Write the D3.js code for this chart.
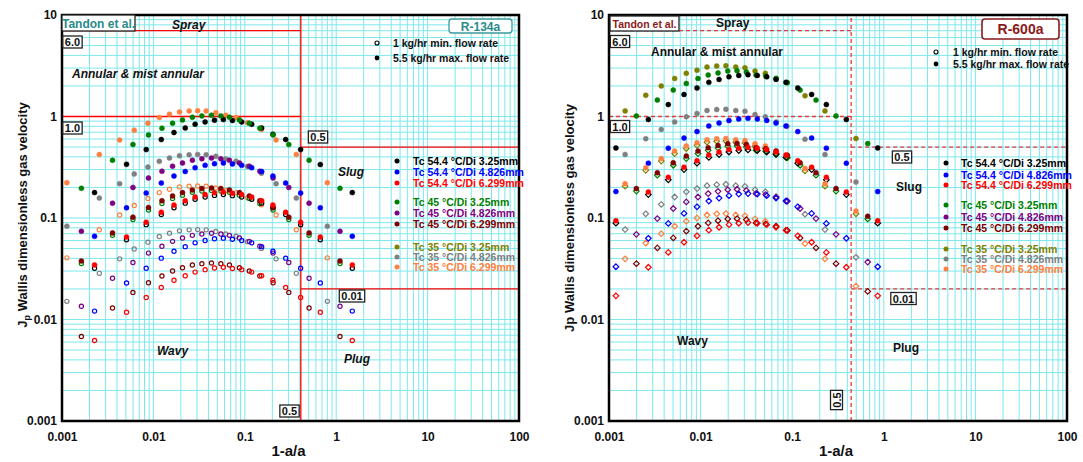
<!DOCTYPE html>
<html lang="en">
<head>
<meta charset="UTF-8">
<title>Tandon flow map - R-134a / R-600a</title>
<script src="https://cdn.jsdelivr.net/npm/d3@7/dist/d3.min.js"></script>
<style>
body { margin: 0; background: #fff; }
svg text { font-family: "Liberation Sans", Arial, sans-serif; font-weight: bold; }
</style>
</head>
<body>
<svg id="chart" width="1083" height="462"></svg>
<script>
// ---------- R-134a (left) : x = 1-a/a, one set per condensing temperature ----------
var L_x54 = [0.00227, 0.00508, 0.00834, 0.0122, 0.0168, 0.0223, 0.0286, 0.0368, 0.0466, 0.0583, 0.0732, 0.0925, 0.119, 0.153, 0.203, 0.280, 0.408, 0.670, 1.50];
var L_x45 = [0.00163, 0.00357, 0.00597, 0.00883, 0.0124, 0.0162, 0.0208, 0.0267, 0.0339, 0.0432, 0.0547, 0.0679, 0.0873, 0.112, 0.146, 0.204, 0.303, 0.505, 1.10];
var L_x35 = [0.00113, 0.00256, 0.00427, 0.00617, 0.00871, 0.0116, 0.0150, 0.0193, 0.0246, 0.0305, 0.0378, 0.0482, 0.0619, 0.0803, 0.107, 0.152, 0.220, 0.366, 0.80];

// Jp, 5.5 kg/hr (max) and 1 kg/hr (min)
var L_54_325_max  = [0.178, 0.338, 0.472, 0.593, 0.695, 0.771, 0.839, 0.885, 0.919, 0.934, 0.912, 0.885, 0.839, 0.771, 0.669, 0.593, 0.472, 0.336, 0.178];
var L_54_325_min  = [0.032, 0.061, 0.086, 0.108, 0.126, 0.140, 0.153, 0.161, 0.167, 0.170, 0.166, 0.161, 0.153, 0.140, 0.126, 0.108, 0.086, 0.061, 0.032];
var L_54_4826_max = [0.066, 0.126, 0.176, 0.221, 0.259, 0.287, 0.313, 0.330, 0.343, 0.348, 0.340, 0.330, 0.313, 0.287, 0.259, 0.221, 0.176, 0.126, 0.066];
var L_54_4826_min = [0.0121, 0.0229, 0.032, 0.0402, 0.0471, 0.0522, 0.0569, 0.060, 0.0624, 0.0633, 0.0618, 0.060, 0.0569, 0.0522, 0.0471, 0.0402, 0.032, 0.0229, 0.0121];
var L_54_6299_max = [0.0345, 0.065, 0.091, 0.114, 0.134, 0.148, 0.161, 0.170, 0.177, 0.180, 0.175, 0.170, 0.161, 0.148, 0.134, 0.114, 0.091, 0.065, 0.0345];
var L_54_6299_min = [0.0062, 0.0118, 0.0165, 0.0207, 0.0244, 0.027, 0.0293, 0.031, 0.0322, 0.0327, 0.0318, 0.031, 0.0293, 0.027, 0.0244, 0.0207, 0.0165, 0.0118, 0.0062];

var L_45_325_max  = [0.196, 0.371, 0.530, 0.658, 0.767, 0.859, 0.925, 0.984, 1.014, 1.03, 1.014, 0.984, 0.925, 0.859, 0.767, 0.658, 0.530, 0.371, 0.196];
var L_45_325_min  = [0.0356, 0.0675, 0.0964, 0.120, 0.139, 0.156, 0.168, 0.179, 0.184, 0.187, 0.184, 0.179, 0.168, 0.156, 0.139, 0.120, 0.0964, 0.0675, 0.0356];
var L_45_4826_max = [0.074, 0.140, 0.200, 0.248, 0.289, 0.324, 0.349, 0.371, 0.383, 0.389, 0.383, 0.371, 0.349, 0.324, 0.289, 0.248, 0.200, 0.140, 0.074];
var L_45_4826_min = [0.0135, 0.0255, 0.0364, 0.0451, 0.0526, 0.0589, 0.0635, 0.0675, 0.0696, 0.0707, 0.0696, 0.0675, 0.0635, 0.0589, 0.0526, 0.0451, 0.0364, 0.0255, 0.0135];
var L_45_6299_max = [0.0377, 0.0713, 0.102, 0.127, 0.148, 0.165, 0.178, 0.189, 0.195, 0.198, 0.195, 0.189, 0.178, 0.165, 0.148, 0.127, 0.102, 0.0713, 0.0377];
var L_45_6299_min = [0.0068, 0.013, 0.0185, 0.023, 0.0268, 0.030, 0.0324, 0.0344, 0.0355, 0.036, 0.0355, 0.0344, 0.0324, 0.030, 0.0268, 0.023, 0.0185, 0.013, 0.0068];

var L_35_4826_max = [0.083, 0.157, 0.218, 0.272, 0.318, 0.362, 0.390, 0.411, 0.420, 0.423, 0.420, 0.405, 0.382, 0.363, 0.322, 0.276, 0.218, 0.157, 0.083];
var L_35_4826_min = [0.0151, 0.0285, 0.0396, 0.0495, 0.0578, 0.0658, 0.0709, 0.0747, 0.0764, 0.0769, 0.0764, 0.0736, 0.0695, 0.066, 0.0585, 0.0502, 0.0396, 0.0285, 0.0151];
var L_35_6299_max = [0.223, 0.422, 0.587, 0.733, 0.859, 0.977, 1.054, 1.11, 1.135, 1.14, 1.135, 1.09, 1.03, 0.98, 0.87, 0.745, 0.587, 0.422, 0.223];
var L_35_6299_min = [0.0405, 0.0767, 0.107, 0.133, 0.156, 0.178, 0.192, 0.202, 0.206, 0.207, 0.206, 0.198, 0.187, 0.178, 0.158, 0.135, 0.107, 0.0767, 0.0405];

// ---------- R-600a (right) ----------
var R_x54 = [0.00119, 0.00269, 0.00444, 0.00659, 0.00914, 0.0123, 0.0159, 0.0204, 0.0261, 0.0329, 0.0416, 0.0527, 0.0666, 0.0855, 0.115, 0.163, 0.236, 0.390, 0.858];
var R_x45 = [0.00199, 0.00337, 0.00503, 0.00698, 0.00937, 0.0121, 0.0155, 0.0198, 0.0250, 0.0316, 0.0403, 0.0514, 0.0666, 0.0885, 0.122, 0.182, 0.301, 0.667];
var R_x35 = [0.0015, 0.00252, 0.00372, 0.00521, 0.00698, 0.00914, 0.01175, 0.0150, 0.0189, 0.0242, 0.0305, 0.0393, 0.0509, 0.067, 0.0877, 0.138, 0.228, 0.497];

var R_54_325_max  = [0.49, 0.934, 1.31, 1.65, 1.91, 2.17, 2.32, 2.46, 2.54, 2.58, 2.54, 2.46, 2.32, 2.17, 1.91, 1.65, 1.31, 0.934, 0.49];
var R_54_325_min  = [0.089, 0.17, 0.238, 0.30, 0.347, 0.395, 0.422, 0.447, 0.462, 0.469, 0.462, 0.447, 0.422, 0.395, 0.347, 0.30, 0.238, 0.17, 0.089];
var R_54_4826_max = [0.182, 0.347, 0.487, 0.613, 0.71, 0.807, 0.862, 0.914, 0.944, 0.959, 0.944, 0.914, 0.862, 0.807, 0.71, 0.613, 0.487, 0.347, 0.182];
var R_54_4826_min = [0.0331, 0.0631, 0.0885, 0.111, 0.129, 0.147, 0.157, 0.166, 0.172, 0.174, 0.172, 0.166, 0.157, 0.147, 0.129, 0.111, 0.0885, 0.0631, 0.0331];
var R_54_6299_max = [0.094, 0.18, 0.252, 0.317, 0.367, 0.417, 0.446, 0.473, 0.488, 0.496, 0.488, 0.473, 0.446, 0.417, 0.367, 0.317, 0.252, 0.18, 0.094];
var R_54_6299_min = [0.0171, 0.0327, 0.0458, 0.0577, 0.0668, 0.0759, 0.0811, 0.086, 0.0888, 0.0902, 0.0888, 0.086, 0.0811, 0.0759, 0.0668, 0.0577, 0.0458, 0.0327, 0.0171];

var R_45_325_max  = [1.014, 1.45, 1.82, 2.12, 2.37, 2.56, 2.69, 2.80, 2.82, 2.75, 2.56, 2.50, 2.37, 2.16, 1.82, 1.45, 1.014, 0.541];
var R_45_325_min  = [0.184, 0.264, 0.331, 0.385, 0.431, 0.465, 0.489, 0.509, 0.513, 0.50, 0.465, 0.455, 0.431, 0.393, 0.331, 0.264, 0.184, 0.098];
var R_45_4826_min = [0.069, 0.0986, 0.124, 0.144, 0.161, 0.174, 0.183, 0.19, 0.192, 0.187, 0.174, 0.17, 0.161, 0.147, 0.124, 0.0986, 0.069, 0.0368];
var R_45_6299_max = [0.195, 0.279, 0.35, 0.408, 0.456, 0.492, 0.517, 0.538, 0.542, 0.529, 0.492, 0.481, 0.456, 0.415, 0.35, 0.279, 0.195, 0.104];
var R_45_6299_min = [0.0355, 0.0507, 0.0636, 0.0742, 0.0829, 0.0895, 0.094, 0.0978, 0.0985, 0.0962, 0.0895, 0.0875, 0.0829, 0.0755, 0.0636, 0.0507, 0.0355, 0.0189];

var R_35_325_max  = [1.135, 1.62, 2.0, 2.37, 2.66, 2.86, 3.07, 3.14, 3.16, 3.07, 3.02, 2.80, 2.66, 2.37, 2.15, 1.60, 1.135, 0.607];
var R_35_325_min  = [0.206, 0.295, 0.364, 0.431, 0.484, 0.52, 0.558, 0.571, 0.575, 0.558, 0.549, 0.509, 0.484, 0.431, 0.391, 0.291, 0.206, 0.11];
var R_35_4826_max = [0.423, 0.604, 0.746, 0.884, 0.993, 1.07, 1.145, 1.17, 1.18, 1.145, 1.127, 1.045, 0.993, 0.884, 0.80, 0.597, 0.423, 0.226];
var R_35_4826_min = [0.0769, 0.11, 0.136, 0.161, 0.181, 0.195, 0.208, 0.213, 0.215, 0.208, 0.205, 0.19, 0.181, 0.161, 0.145, 0.109, 0.0769, 0.041];
var R_35_6299_max = [0.218, 0.312, 0.385, 0.456, 0.512, 0.55, 0.59, 0.604, 0.608, 0.59, 0.58, 0.538, 0.512, 0.456, 0.413, 0.308, 0.218, 0.117];
var R_35_6299_min = [0.0396, 0.0567, 0.07, 0.083, 0.093, 0.1, 0.107, 0.11, 0.1105, 0.107, 0.105, 0.098, 0.093, 0.083, 0.075, 0.056, 0.0396, 0.0213];

// transition lines of the map
var specLinesL = { spray: 7.0, annular: 1.0, slug: 0.5, plug: 0.02, xv: 0.41 };
var specLinesR = { spray: 7.0, annular: 1.0, slug: 0.5, plug: 0.02, xv: 0.44 };

var xTicks = [0.001, 0.01, 0.1, 1, 10, 100];
var yTicks = [0.001, 0.01, 0.1, 1, 10];

var legendLabels = ['Tc 54.4 °C/Di 3.25mm', 'Tc 54.4 °C/Di 4.826mm', 'Tc 54.4 °C/Di 6.299mm',
                    'Tc 45 °C/Di 3.25mm', 'Tc 45 °C/Di 4.826mm', 'Tc 45 °C/Di 6.299mm',
                    'Tc 35 °C/Di 3.25mm', 'Tc 35 °C/Di 4.826mm', 'Tc 35 °C/Di 6.299mm'];
var legendColors = ['#000000', '#0000ff', '#ff0000', '#008000', '#800080', '#800000', '#808000', '#808080', '#ff8040'];

var leftSeries = [
    [L_x35, L_35_4826_min, 7, true], [L_x35, L_35_6299_min, 8, true],
    [L_x45, L_45_325_min, 3, true], [L_x45, L_45_4826_min, 4, true], [L_x45, L_45_6299_min, 5, true],
    [L_x54, L_54_325_min, 0, true], [L_x54, L_54_4826_min, 1, true], [L_x54, L_54_6299_min, 2, true],
    [L_x35, L_35_4826_max, 7, false], [L_x35, L_35_6299_max, 8, false],
    [L_x54, L_54_325_max, 0, false], [L_x45, L_45_325_max, 3, false],
    [L_x45, L_45_4826_max, 4, false], [L_x54, L_54_4826_max, 1, false],
    [L_x45, L_45_6299_max, 5, false], [L_x54, L_54_6299_max, 2, false]
];
var rightSeries = [
    [R_x35, R_35_325_min, 6, true], [R_x35, R_35_4826_min, 7, true], [R_x35, R_35_6299_min, 8, true],
    [R_x45, R_45_325_min, 3, true], [R_x45, R_45_4826_min, 4, true], [R_x45, R_45_6299_min, 5, true],
    [R_x54, R_54_325_min, 0, true], [R_x54, R_54_4826_min, 1, true], [R_x54, R_54_6299_min, 2, true],
    [R_x35, R_35_325_max, 6, false], [R_x45, R_45_325_max, 3, false], [R_x54, R_54_325_max, 0, false],
    [R_x35, R_35_4826_max, 7, false], [R_x54, R_54_4826_max, 1, false],
    [R_x35, R_35_6299_max, 8, false], [R_x45, R_45_6299_max, 5, false], [R_x54, R_54_6299_max, 2, false]
];

var svg = d3.select('#chart');

function boxed(g, x, y, txt, size, rot) {
    var t = g.append('text').attr('x', x).attr('y', y).attr('text-anchor', 'middle')
        .attr('font-size', size).attr('fill', '#111').text(txt);
    if (rot) t.attr('transform', 'rotate(-90,' + x + ',' + y + ')');
    var b = t.node().getBBox();
    var r = g.insert('rect', function() { return t.node(); })
        .attr('x', b.x - 2).attr('y', b.y).attr('width', b.width + 4).attr('height', b.height)
        .attr('fill', '#fff').attr('stroke', '#222').attr('stroke-width', 1.3);
    if (rot) r.attr('transform', 'rotate(-90,' + x + ',' + y + ')');
}

var diamond = d3.symbol().type(d3.symbolDiamond2).size(20);

function drawPanel(p) {
    var g = svg.append('g');
    var x = d3.scaleLog().domain([0.001, 100]).range([p.left, p.right]);
    var y = d3.scaleLog().domain([0.001, 10]).range([p.bottom, p.top]);

    var gx = [], gy = [];
    for (var e = -3; e <= 1; e++) {
        for (var k = 1; k <= 9; k++) {
            gx.push(k * Math.pow(10, e));
            if (e < 1) gy.push(k * Math.pow(10, e));
        }
    }
    g.selectAll('.gx').data(gx).enter().append('line')
        .attr('x1', function(d) { return x(d); }).attr('x2', function(d) { return x(d); })
        .attr('y1', p.top).attr('y2', p.bottom)
        .attr('stroke', '#7ee8ee').attr('stroke-width', 1);
    g.selectAll('.gy').data(gy).enter().append('line')
        .attr('y1', function(d) { return y(d); }).attr('y2', function(d) { return y(d); })
        .attr('x1', p.left).attr('x2', p.right)
        .attr('stroke', '#7ee8ee').attr('stroke-width', 1);

    // map boundaries
    var s = p.lines;
    var segs = [
        [0.001, s.xv, s.spray, s.spray], [0.001, s.xv, s.annular, s.annular],
        [s.xv, 100, s.slug, s.slug], [s.xv, 100, s.plug, s.plug],
        [s.xv, s.xv, 0.001, 10]
    ];
    g.selectAll('.seg').data(segs).enter().append('line')
        .attr('x1', function(d) { return x(d[0]); }).attr('x2', function(d) { return x(d[1]); })
        .attr('y1', function(d) { return y(d[2]); }).attr('y2', function(d) { return y(d[3]); })
        .attr('stroke', p.lineColor).attr('stroke-width', 1.3)
        .attr('stroke-dasharray', p.dashed ? '4,3' : null);

    // points
    p.series.forEach(function(sr) {
        var pts = sr[0].map(function(v, i) { return [v, sr[1][i]]; });
        var col = legendColors[sr[2]];
        var sg = g.append('g');
        if (sr[3] && p.diamonds) {
            sg.selectAll('path').data(pts).enter().append('path')
                .attr('d', diamond)
                .attr('transform', function(d) { return 'translate(' + x(d[0]) + ',' + y(d[1]) + ')'; })
                .attr('fill', 'none').attr('stroke', col).attr('stroke-width', 1.2);
        } else {
            sg.selectAll('circle').data(pts).enter().append('circle')
                .attr('cx', function(d) { return x(d[0]); })
                .attr('cy', function(d) { return y(d[1]); })
                .attr('r', sr[3] ? 2.1 : 2.5)
                .attr('fill', sr[3] ? 'none' : col)
                .attr('stroke', col).attr('stroke-width', sr[3] ? 1.2 : 0.5);
        }
    });

    // axes
    var ax = g.append('g').attr('transform', 'translate(0,' + p.bottom + ')')
        .call(d3.axisBottom(x).tickValues(xTicks).tickFormat(d3.format('~g')).tickSize(0).tickPadding(11));
    var ay = g.append('g').attr('transform', 'translate(' + p.left + ',0)')
        .call(d3.axisLeft(y).tickValues(yTicks).tickFormat(d3.format('~g')).tickSize(0).tickPadding(5));
    [ax, ay].forEach(function(a) {
        a.select('.domain').remove();
        a.selectAll('text').attr('font-size', 12).attr('fill', '#111')
            .attr('font-family', '"Liberation Sans", Arial, sans-serif').attr('font-weight', 'bold');
    });
    g.append('rect').attr('x', p.left).attr('y', p.top)
        .attr('width', p.right - p.left).attr('height', p.bottom - p.top)
        .attr('fill', 'none').attr('stroke', '#000').attr('stroke-width', 2.5);

    g.append('text').attr('x', (p.left + p.right) / 2 - 2).attr('y', 456)
        .attr('text-anchor', 'middle').attr('font-size', 15).attr('fill', '#111').text('1-a/a');
    return { g: g, x: x, y: y };
}

// ---------------- left panel ----------------
var L = drawPanel({ left: 62, right: 519, top: 15, bottom: 421, lines: specLinesL,
    lineColor: '#ff0000', dashed: false, diamonds: false, series: leftSeries });
var lg = L.g;
var yl = lg.append('text').attr('transform', 'translate(27,215) rotate(-90)')
    .attr('text-anchor', 'middle').attr('font-size', 13).attr('fill', '#111');
yl.append('tspan').text('J');
yl.append('tspan').attr('font-size', 9).attr('dy', 3).text('p');
yl.append('tspan').attr('dy', -3).text('  Wallis dimensionless gas velocity');

lg.append('rect').attr('x', 62).attr('y', 15).attr('width', 73).attr('height', 16)
    .attr('fill', '#fff').attr('stroke', '#222').attr('stroke-width', 1.3);
lg.append('text').attr('x', 98.5).attr('y', 27.5).attr('text-anchor', 'middle')
    .attr('font-size', 12).attr('fill', '#2a8a8a').text('Tandon et al.');
var regL = [['Spray', 172, 29], ['Annular & mist annular', 72, 78], ['Slug', 338, 176], ['Wavy', 157, 355], ['Plug', 344, 363]];
lg.selectAll('.reg').data(regL).enter().append('text')
    .attr('x', function(d) { return d[1]; }).attr('y', function(d) { return d[2]; })
    .attr('font-size', 12).attr('font-style', 'italic').attr('fill', '#111')
    .text(function(d) { return d[0]; });
boxed(lg, 72.5, 46, '6.0', 11);
boxed(lg, 72.5, 132, '1.0', 11);
boxed(lg, 318, 141, '0.5', 11);
boxed(lg, 352, 300, '0.01', 11);
boxed(lg, 289.5, 415, '0.5', 11);

lg.append('rect').attr('x', 449).attr('y', 19).attr('width', 63).attr('height', 14).attr('rx', 3)
    .attr('fill', '#fff').attr('stroke', '#3a9c9c').attr('stroke-width', 1.3);
lg.append('text').attr('x', 480.5).attr('y', 30.5).attr('text-anchor', 'middle')
    .attr('font-size', 12).attr('fill', '#2a8a8a').text('R-134a');

// ---------------- right panel ----------------
var R = drawPanel({ left: 609, right: 1067, top: 15, bottom: 421, lines: specLinesR,
    lineColor: '#e8383a', dashed: true, diamonds: true, series: rightSeries });
var rg = R.g;
rg.append('text').attr('transform', 'translate(574,218) rotate(-90)')
    .attr('text-anchor', 'middle').attr('font-size', 13).attr('fill', '#111')
    .text('Jp Wallis dimensionless gas velocity');

rg.append('rect').attr('x', 610).attr('y', 16).attr('width', 69).attr('height', 15)
    .attr('fill', '#fff').attr('stroke', '#222').attr('stroke-width', 1.3);
rg.append('text').attr('x', 644.5).attr('y', 27.5).attr('text-anchor', 'middle')
    .attr('font-size', 10.5).attr('fill', '#8b1a1a').text('Tandon et al.');
var regR = [['Spray', 716, 27], ['Annular & mist annular', 651, 56], ['Slug', 896, 191], ['Wavy', 677, 345], ['Plug', 893, 352]];
rg.selectAll('.reg').data(regR).enter().append('text')
    .attr('x', function(d) { return d[1]; }).attr('y', function(d) { return d[2]; })
    .attr('font-size', 12).attr('fill', '#111')
    .text(function(d) { return d[0]; });
boxed(rg, 620, 45.5, '6.0', 11);
boxed(rg, 620, 130.5, '1.0', 11);
boxed(rg, 902, 161, '0.5', 11);
boxed(rg, 903.5, 302.5, '0.01', 11);
boxed(rg, 840.5, 400, '0.5', 11, true);

rg.append('rect').attr('x', 982).attr('y', 19).attr('width', 77).attr('height', 20).attr('rx', 3)
    .attr('fill', '#fff').attr('stroke', '#8b1a1a').attr('stroke-width', 1.6);
rg.append('text').attr('x', 1020.5).attr('y', 34).attr('text-anchor', 'middle')
    .attr('font-size', 14).attr('fill', '#8b1a1a').text('R-600a');

// ---------------- legends ----------------
function flowLegend(g, mx, tx, y0, y1) {
    g.append('circle').attr('cx', mx).attr('cy', y0).attr('r', 2).attr('fill', 'none')
        .attr('stroke', '#000').attr('stroke-width', 1.1);
    g.append('circle').attr('cx', mx).attr('cy', y1).attr('r', 2.4).attr('fill', '#000');
    g.append('text').attr('x', tx).attr('y', y0 + 4).attr('font-size', 10.5).attr('fill', '#111').text('1 kg/hr min. flow rate');
    g.append('text').attr('x', tx).attr('y', y1 + 4).attr('font-size', 10.5).attr('fill', '#111').text('5.5 kg/hr max. flow rate');
}
function seriesLegend(g, mx, tx, rows) {
    var lgd = g.append('g').selectAll('g').data(legendLabels).enter().append('g');
    lgd.append('circle').attr('cx', mx).attr('cy', function(d, i) { return rows[i]; })
        .attr('r', 2.5).attr('fill', function(d, i) { return legendColors[i]; });
    lgd.append('text').attr('x', tx).attr('y', function(d, i) { return rows[i] + 4; })
        .attr('font-size', 10.5).attr('fill', function(d, i) { return legendColors[i]; })
        .text(function(d) { return d; });
}
flowLegend(lg, 377, 393, 43, 58);
seriesLegend(lg, 397, 413, [161, 172, 183, 202, 213, 224, 247, 257, 267]);
flowLegend(rg, 936, 953, 52, 64);
seriesLegend(rg, 946, 961, [163, 175, 185, 205, 217, 228, 249, 259, 269]);
</script>
</body>
</html>
